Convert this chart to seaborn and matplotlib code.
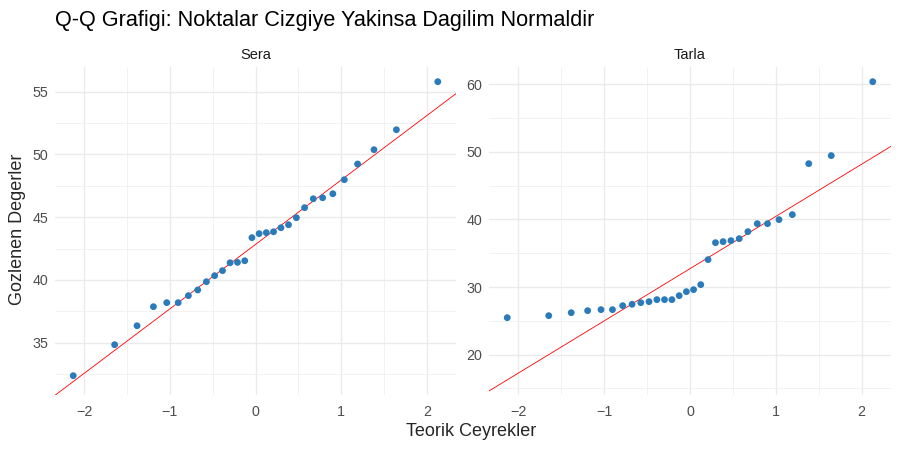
import numpy as np
import pandas as pd
import seaborn as sns
import matplotlib
matplotlib.use('Agg')
import matplotlib.pyplot as plt
from statistics import NormalDist

sera = [32.37, 34.84, 36.35, 37.87, 38.19, 38.19, 38.75, 39.20, 39.86, 40.34,
        40.74, 41.40, 41.37, 41.53, 43.37, 43.69, 43.77, 43.84, 44.16, 44.40,
        44.96, 45.76, 46.47, 46.55, 46.87, 47.99, 49.24, 50.38, 51.97, 55.80]
tarla = [25.47, 25.77, 26.21, 26.51, 26.66, 26.66, 27.25, 27.45, 27.69, 27.84,
         28.14, 28.14, 28.14, 28.73, 29.32, 29.62, 30.36, 34.06, 36.57, 36.72,
         36.87, 37.16, 38.20, 39.38, 39.38, 39.98, 40.72, 48.26, 49.45, 60.39]
groups = ['Sera', 'Tarla']
sera_yticks = [35, 40, 45, 50, 55]
tarla_yticks = [20, 30, 40, 50, 60]
xticks = [-2, -1, 0, 1, 2]

nd = NormalDist()
rows = []
for g, vals in zip(groups, [sera, tarla]):
    vals = sorted(vals)
    n = len(vals)
    for i, v in enumerate(vals):
        rows.append({'grup': g, 'teorik': nd.inv_cdf((i + 0.5) / n), 'deger': v})
df = pd.DataFrame(rows)

sns.set_theme(style='whitegrid')
plt.rcParams['font.family'] = ['Liberation Sans', 'DejaVu Sans']

fig = plt.figure(figsize=(9, 4.5), dpi=100)
positions = [[0.0611, 0.1222, 0.4456, 0.7289], [0.5433, 0.1222, 0.4467, 0.7289]]
ylims = [(30.83, 56.97), (14.03, 62.56)]
yticks_all = [sera_yticks, tarla_yticks]

xr = df['teorik'].max() - df['teorik'].min()
xlim = (df['teorik'].min() - 0.05 * xr, df['teorik'].max() + 0.05 * xr)

for k, g in enumerate(groups):
    ax = fig.add_axes(positions[k])
    sub = df[df['grup'] == g]
    sns.scatterplot(data=sub, x='teorik', y='deger', ax=ax, color='#2b7bba',
                    s=24, edgecolor='none', zorder=3)
    # qq line through quartiles
    y25, y75 = np.percentile(sub['deger'], [25, 75])
    x25, x75 = nd.inv_cdf(0.25), nd.inv_cdf(0.75)
    slope = (y75 - y25) / (x75 - x25)
    icpt = y25 - slope * x25
    ax.axline((0, icpt), slope=slope, color='red', lw=0.6, zorder=2)

    ax.set_xticks(xticks)
    ax.set_yticks(yticks_all[k])
    step = yticks_all[k][1] - yticks_all[k][0]
    ax.set_xticks([t + 0.5 for t in xticks[:-1]], minor=True)
    ax.set_yticks([t - step / 2 for t in yticks_all[k]] + [yticks_all[k][-1] + step / 2], minor=True)
    # limits after ticks so the ticks do not widen the view
    ax.set_xlim(xlim)
    ax.set_ylim(ylims[k])
    ax.grid(True, which='major', color='#ebebeb', lw=1.0)
    ax.grid(True, which='minor', color='#f0f0f0', lw=0.6)
    ax.set_facecolor('white')
    for s in ax.spines.values():
        s.set_visible(False)
    ax.tick_params(axis='both', which='both', length=0, labelsize=10.3,
                   labelcolor='#4d4d4d')
    ax.tick_params(axis='x', pad=7)
    ax.tick_params(axis='y', pad=5)
    ax.set_xlabel('')
    ax.set_ylabel('')
    ax.set_title(g, fontsize=10.5, color='#1a1a1a', pad=6)

fig.text(0.061, 0.955, 'Q-Q Grafigi: Noktalar Cizgiye Yakinsa Dagilim Normaldir',
         fontsize=15.6, color='black', ha='left', va='center')
fig.text(0.524, 0.04, 'Teorik Ceyrekler', fontsize=13, ha='center', va='center')
fig.text(0.02, 0.49, 'Gozlenen Degerler', fontsize=13, ha='center', va='center',
         rotation=90)

fig.savefig('out.png', dpi=100)
